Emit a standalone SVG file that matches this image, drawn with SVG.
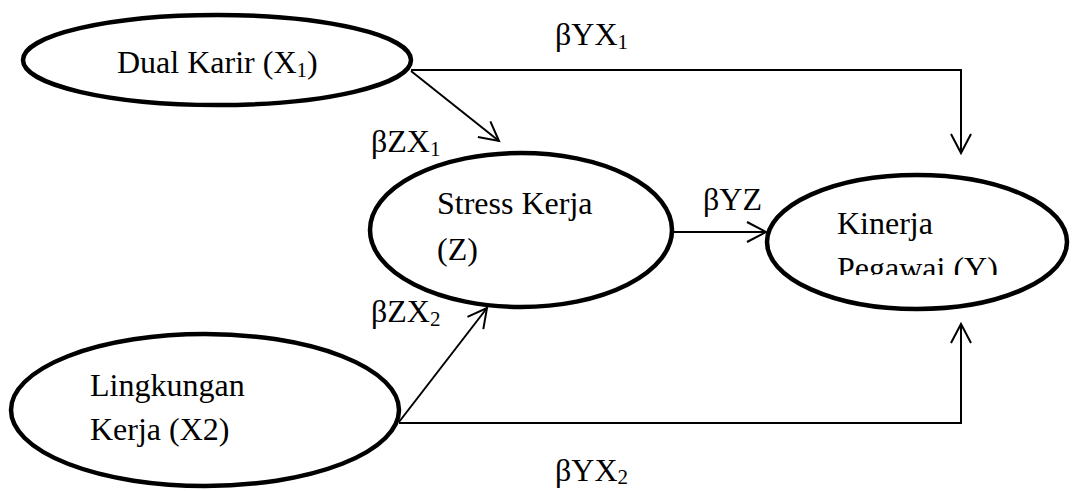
<svg xmlns="http://www.w3.org/2000/svg" width="1072" height="491" viewBox="0 0 1072 491">
<style>
.node ellipse { fill: #ffffff; stroke: #000000; stroke-width: 4.5; }
.t { font-family: "Liberation Serif", "Times New Roman", serif; font-size: 32px; fill: #000000; }
.sub { font-size: 21px; }
.conn { fill: none; stroke: #000000; stroke-width: 2; }
</style>
<defs>
<marker id="arr" markerUnits="userSpaceOnUse" markerWidth="24" markerHeight="24" viewBox="-21 -12 23 24" refX="0" refY="0" orient="auto" style="overflow:visible">
<path d="M-19,-10 L0,0 L-19,10" fill="none" stroke="#000000" stroke-width="2"/>
</marker>
<clipPath id="clipY"><rect x="760" y="160" width="312" height="115"/></clipPath>
</defs>
<rect width="1072" height="491" fill="#ffffff"/>
<g id="connectors">
<path class="conn" d="M411,70 H961 V153" marker-end="url(#arr)"/>
<line class="conn" x1="411" y1="71" x2="499" y2="141" marker-end="url(#arr)"/>
<line class="conn" x1="673" y1="232" x2="766" y2="232" marker-end="url(#arr)"/>
<line class="conn" x1="399" y1="422" x2="487" y2="308" marker-end="url(#arr)"/>
<path class="conn" d="M399,423 H961 V324" marker-end="url(#arr)"/>
</g>
<g id="node-x1" class="node">
<ellipse cx="217" cy="60" rx="194" ry="45"/>
<text class="t" x="117" y="73">Dual Karir (X<tspan class="sub" dy="4">1</tspan><tspan dy="-4">)</tspan></text>
</g>
<g id="node-z" class="node">
<ellipse cx="521" cy="230" rx="151" ry="77"/>
<text class="t" x="437" y="214">Stress Kerja</text>
<text class="t" x="437" y="260">(Z)</text>
</g>
<g id="node-y" class="node">
<ellipse cx="917" cy="242" rx="150" ry="67"/>
<text class="t" x="837" y="234">Kinerja</text>
<text class="t" x="837" y="279" clip-path="url(#clipY)">Pegawai (Y)</text>
</g>
<g id="node-x2" class="node">
<ellipse cx="205" cy="410" rx="194" ry="76"/>
<text class="t" x="90" y="396">Lingkungan</text>
<text class="t" x="90" y="440">Kerja (X2)</text>
</g>
<g id="labels">
<text class="t" x="555" y="45">βYX<tspan class="sub" dy="4">1</tspan></text>
<text class="t" x="371" y="152">βZX<tspan class="sub" dy="4">1</tspan></text>
<text class="t" x="703" y="210">βYZ</text>
<text class="t" x="371" y="322">βZX<tspan class="sub" dy="4">2</tspan></text>
<text class="t" x="555" y="481">βYX<tspan class="sub" dy="3">2</tspan></text>
</g>
</svg>
